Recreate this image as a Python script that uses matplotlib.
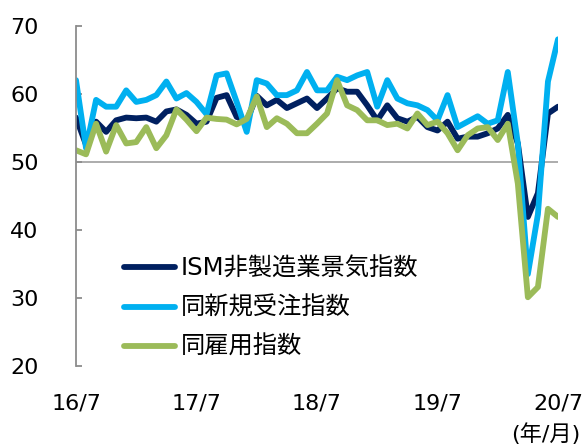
import matplotlib
matplotlib.use('Agg')
import matplotlib.pyplot as plt
import numpy as np

plt.rcParams['font.family'] = ['DejaVu Sans', 'Noto Sans CJK JP']

# monthly, 2016/7 .. 2020/7
months = ['16/7', '16/8', '16/9', '16/10', '16/11', '16/12',
          '17/1', '17/2', '17/3', '17/4', '17/5', '17/6',
          '17/7', '17/8', '17/9', '17/10', '17/11', '17/12',
          '18/1', '18/2', '18/3', '18/4', '18/5', '18/6',
          '18/7', '18/8', '18/9', '18/10', '18/11', '18/12',
          '19/1', '19/2', '19/3', '19/4', '19/5', '19/6',
          '19/7', '19/8', '19/9', '19/10', '19/11', '19/12',
          '20/1', '20/2', '20/3', '20/4', '20/5', '20/6', '20/7']

ism = [56.5, 52.5, 55.9, 54.4, 56.1, 56.5, 56.4, 56.5, 55.9, 57.4, 57.7, 56.9,
       55.6, 55.9, 59.4, 59.8, 56.6, 56.0, 59.7, 58.3, 59.1, 57.9, 58.6, 59.3,
       57.9, 59.3, 60.8, 60.3, 60.3, 58.3, 56.1, 58.3, 56.4, 55.9, 56.6, 55.1,
       54.6, 55.9, 53.4, 53.7, 53.7, 54.2, 54.9, 56.9, 52.7, 41.9, 45.4, 57.1, 58.1]

new_orders = [62.0, 52.0, 59.1, 58.1, 58.1, 60.5, 58.8, 59.1, 59.8, 61.8, 59.3, 60.1,
              58.8, 57.0, 62.7, 63.0, 58.8, 54.4, 62.0, 61.5, 59.8, 59.8, 60.5, 63.2,
              60.5, 60.5, 62.5, 62.0, 62.7, 63.2, 58.1, 62.0, 59.3, 58.6, 58.3, 57.6,
              56.1, 59.8, 55.1, 55.9, 56.7, 55.6, 56.1, 63.2, 52.7, 33.5, 42.3, 61.8, 68.0]

employment = [51.7, 51.1, 55.6, 51.5, 55.4, 52.7, 52.9, 55.1, 52.0, 53.9, 57.7, 56.2,
              54.5, 56.5, 56.3, 56.2, 55.5, 56.3, 59.6, 55.1, 56.4, 55.6, 54.2, 54.2,
              55.6, 57.1, 62.0, 58.3, 57.6, 56.1, 56.1, 55.4, 55.6, 54.9, 57.1, 55.4,
              55.9, 54.2, 51.7, 53.9, 54.9, 55.1, 53.2, 55.6, 46.8, 30.1, 31.6, 43.1, 41.9]

labels = ['ISM非製造業景気指数', '同新規受注指数', '同雇用指数']
colors = ['#002060', '#00B0F0', '#9BBB59']

fig = plt.figure(figsize=(5.85, 4.47), dpi=100)
ax = fig.add_axes([76/585, 1-366/447, 482/585, 340.3/447])

x = np.arange(len(months))
for vals, lab, col in zip([ism, new_orders, employment], labels, colors):
  ax.plot(x, vals, color=col, lw=4.2, label=lab,
          solid_joinstyle='round', solid_capstyle='round')

ax.axhline(50, color='#a6a6a6', lw=1.3, zorder=0)

ax.set_xlim(0, len(months)-1)
ax.set_ylim(20, 70)
ax.set_yticks([20, 30, 40, 50, 60, 70])
ax.set_xticks(x[::12])
ax.set_xticklabels(months[::12])

for s in ['top', 'right', 'bottom']:
  ax.spines[s].set_visible(False)
ax.spines['left'].set_color('#8c8c8c')
ax.spines['left'].set_linewidth(1.3)
ax.tick_params(axis='y', direction='in', length=4, width=1.3, color='#8c8c8c',
               pad=27, labelsize=16)
ax.tick_params(axis='x', length=0, pad=20, labelsize=16)

fig.text(580/585, 1-434/447, '(年/月)', fontsize=16, ha='right', va='center')

leg = ax.legend(loc='upper left', bbox_to_anchor=(124/585, 1-257/447),
                bbox_transform=fig.transFigure, frameon=False, fontsize=17.5,
                handlelength=2.1, handletextpad=0.25, labelspacing=0.62,
                borderpad=0, borderaxespad=0)

plt.savefig('out.png', dpi=100)
